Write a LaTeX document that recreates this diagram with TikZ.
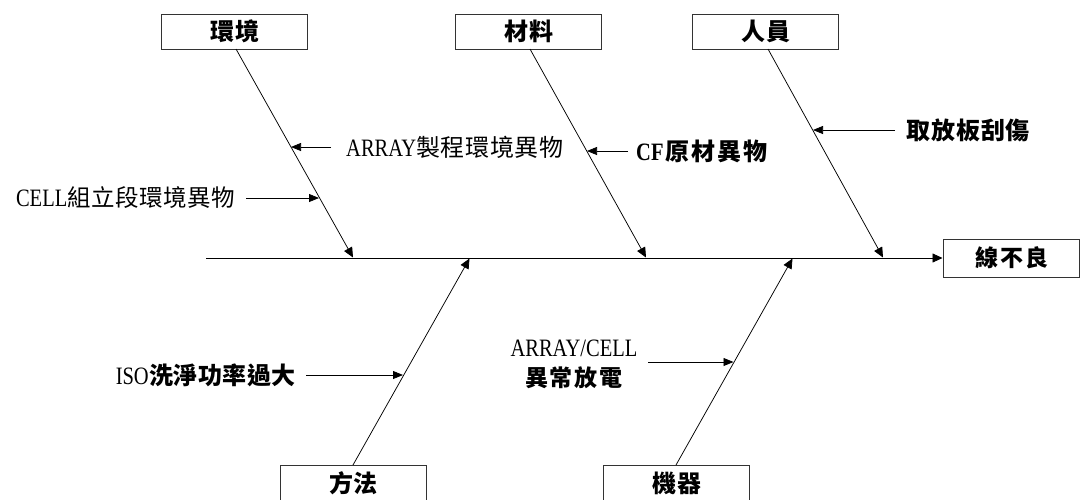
\documentclass[tikz,border=0pt]{standalone}
\usepackage{fontspec}
\usetikzlibrary{arrows.meta,calc}
\newfontfamily\cjk{Noto Sans CJK TC}
\newfontfamily\lat[FakeStretch=0.82]{Liberation Serif}
\newlength\cg
\def\spfirst#1{#1\sploop}
\def\sploop#1{\ifx#1\relax\else\hspace{\cg}#1\expandafter\sploop\fi}
\newcommand\sps[2]{{\setlength\cg{#1}\spfirst#2\relax}}
\newcommand\LT[2]{{\fontsize{#1}{#1}\selectfont\lat #2}}
\newcommand\CJ[3]{{\fontsize{#1}{#1}\selectfont\cjk\sps{#2}{#3}}}
\tikzset{
  catbox/.style={draw=black!80, line width=1pt, minimum width=146pt, minimum height=35pt, inner sep=0pt, fill=white},
  lab/.style={inner sep=0pt, text=black},
  bone/.style={draw=black, line width=0.75pt, -{Triangle[length=10pt,width=9pt]}},
  sub/.style={draw=black, line width=0.75pt, -{Triangle[length=10pt,width=8pt]}},
}
\begin{document}
\begin{tikzpicture}[x=1pt,y=-1pt]
\useasboundingbox[fill=white] (0,0) rectangle (1080,499);
% category boxes
\node[catbox] (env) at (234.5,31.5) {\CJ{24}{1pt}{\bfseries 環境}};
\node[catbox] (mat) at (528.5,31.5) {\CJ{24}{1pt}{\bfseries 材料}};
\node[catbox] (ppl) at (765.5,31.5) {\CJ{24}{1pt}{\bfseries 人員}};
\node[catbox] (met) at (353,483) {\CJ{24}{1pt}{\bfseries 方法}};
\node[catbox] (mac) at (676.5,483) {\CJ{24}{1pt}{\bfseries 機器}};
\node[catbox, minimum width=136pt, minimum height=38pt] (res) at (1011,258) {\CJ{23}{2pt}{\bfseries 線不良}};
% spine
\coordinate (tail) at (206,258);
\draw[bone] (tail) -- (res.west);
% bone ends on spine
\coordinate (s1) at (353,257.5);
\coordinate (s2) at (646,257.5);
\coordinate (s3) at (883,257.5);
\coordinate (s4) at (469.5,258.5);
\coordinate (s5) at (792.5,258.5);
\coordinate (e1) at (236,49);
\coordinate (e2) at (530,49);
\coordinate (e3) at (768,49);
\coordinate (e4) at (353,465);
\coordinate (e5) at (676,465);
\draw[bone] (e1) -- (s1);
\draw[bone] (e2) -- (s2);
\draw[bone] (e3) -- (s3);
\draw[bone] (e4) -- (s4);
\draw[bone] (e5) -- (s5);
% causes
\node[lab, anchor=west] (c1) at (346,147) {\LT{25}{ARRAY}\CJ{24}{0.7pt}{製程環境異物}};
\coordinate (c1t) at (331,147);
\coordinate (c1h) at (291,147);
\draw[sub] (c1t) -- (c1h);

\node[lab, anchor=east] (c2) at (235,198) {\LT{25}{CELL}\CJ{23.5}{0.5pt}{組立段環境異物}};
\coordinate (c2t) at (246,198);
\coordinate (c2h) at (319,198);
\draw[sub] (c2t) -- (c2h);

\node[lab, anchor=west] (c3) at (636,151) {\LT{25}{\bfseries CF}\CJ{24}{2pt}{\bfseries 原材異物}};
\coordinate (c3t) at (628,151);
\coordinate (c3h) at (587,151);
\draw[sub] (c3t) -- (c3h);

\node[lab, anchor=west] (c4) at (906,130) {\CJ{24}{0.75pt}{\bfseries 取放板刮傷}};
\coordinate (c4t) at (895,130);
\coordinate (c4h) at (813,130);
\draw[sub] (c4t) -- (c4h);

\node[lab, anchor=east] (c5) at (296,375) {\LT{25}{ISO}\CJ{24}{0.5pt}{\bfseries 洗淨功率過大}};
\coordinate (c5t) at (306,375);
\coordinate (c5h) at (403,375);
\draw[sub] (c5t) -- (c5h);

\node[lab, align=center] (c6a) at (574,348) {\LT{25}{ARRAY/CELL}};
\node[lab] (c6b) at (573,378) {\CJ{23}{1.7pt}{\bfseries 異常放電}};
\coordinate (c6t) at (648,362);
\coordinate (c6h) at (733.5,362);
\draw[sub] (c6t) -- (c6h);
\end{tikzpicture}
\end{document}
